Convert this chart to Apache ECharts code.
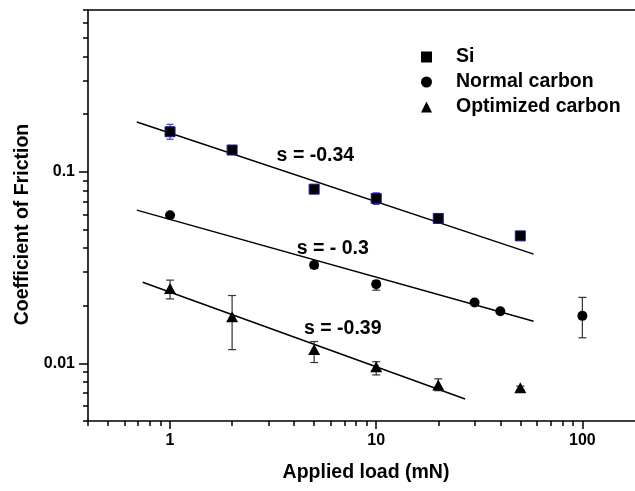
<!DOCTYPE html>
<html><head><meta charset="utf-8">
<script src="https://cdn.jsdelivr.net/npm/echarts@6/dist/echarts.min.js"></script>
<style>html,body{margin:0;padding:0;background:#fff}#c{width:635px;height:491px}</style>
</head><body><div id="c"></div><script>
// ---- data ----
const siLoad = [1, 2, 5, 10, 20, 50];
const siCOF = [0.162, 0.130, 0.0812, 0.0726, 0.0571, 0.0463];
const siLow = [0.148, 0.127, 0.0790, 0.0676, 0.0550, 0.0452];
const siHigh = [0.177, 0.133, 0.0830, 0.0777, 0.0590, 0.0475];

const normalLoad = [1, 5, 10, 30, 40, 100];
const normalCOF = [0.0594, 0.0326, 0.0259, 0.0208, 0.0187, 0.0177];
const normalLow = [0.0578, 0.0313, 0.0241, 0.0203, 0.0183, 0.0136];
const normalHigh = [0.0610, 0.0338, 0.0270, 0.0213, 0.0191, 0.0221];

const optLoad = [1, 2, 5, 10, 20, 50];
const optCOF = [0.0246, 0.0175, 0.0118, 0.0096, 0.0077, 0.00745];
const optLow = [0.0217, 0.0118, 0.0101, 0.0087, 0.0072, 0.0073];
const optHigh = [0.0272, 0.0226, 0.0130, 0.0102, 0.0083, 0.0076];

const siFitX = [0.69, 58], siFitY = [0.182, 0.0372];
const normalFitX = [0.69, 58], normalFitY = [0.0631, 0.0166];
const optFitX = [0.737, 27], optFitY = [0.0265, 0.00651];

const slopeText = ['s = -0.34', 's = - 0.3', 's = -0.39'];
const slopeX = [3.27, 4.09, 4.44];
const slopeY = [0.1222, 0.0395, 0.01523];

const xMinorTicks = [0.4,0.5,0.6,0.7,0.8,0.9,2,3,4,5,6,7,8,9,20,30,40,50,60,70,80,90];
const yMinorTicks = [0.005,0.006,0.007,0.008,0.009,0.02,0.03,0.04,0.05,0.06,0.07,0.08,0.09,0.2,0.3,0.4,0.5,0.6,0.7];

const seriesNames = ['Si', 'Normal carbon', 'Optimized carbon'];
// ---- chart ----
const FONT = '"Liberation Sans", Arial, sans-serif';
const zip2 = (a, b) => a.map((v, i) => [v, b[i]]);
const zip3 = (a, b, c) => a.map((v, i) => [v, b[i], c[i]]);

function errRender(color, cap) {
  return function (params, api) {
    const x = api.value(0);
    const p1 = api.coord([x, api.value(1)]);
    const p2 = api.coord([x, api.value(2)]);
    const st = { stroke: color, lineWidth: 1.2 };
    return { type: 'group', children: [
      { type: 'line', shape: { x1: p1[0], y1: p1[1], x2: p2[0], y2: p2[1] }, style: st },
      { type: 'line', shape: { x1: p1[0] - cap, y1: p1[1], x2: p1[0] + cap, y2: p1[1] }, style: st },
      { type: 'line', shape: { x1: p2[0] - cap, y1: p2[1], x2: p2[0] + cap, y2: p2[1] }, style: st }
    ]};
  };
}

const axisLine = { show: true, lineStyle: { color: '#000', width: 1.6 } };
const tickStyle = { color: '#000', width: 1.5 };
const labelStyle = { color: '#000', fontSize: 16, fontWeight: 'bold', fontFamily: FONT };
const titleStyle = { color: '#000', fontSize: 19.5, fontWeight: 'bold', fontFamily: FONT };

const chart = echarts.init(document.getElementById('c'), null, { renderer: 'canvas' });
chart.setOption({
  animation: false,
  backgroundColor: '#fff',
  grid: { left: 88, top: 10, right: 0, bottom: 70, containLabel: false },
  legend: {
    data: seriesNames.map(n => ({ name: n, itemStyle: { borderWidth: 0, color: '#000' } })),
    orient: 'vertical',
    left: 416, top: 42,
    itemWidth: 11, itemHeight: 11, itemGap: 5,
    textStyle: Object.assign({}, titleStyle, { padding: [0, 0, 0, 19] }),
    selectedMode: false
  },
  xAxis: [
    { type: 'log', logBase: 10, min: 0.4, max: 180, position: 'bottom',
      axisLine: axisLine,
      axisTick: { show: true, inside: false, length: 8, lineStyle: tickStyle },
      axisLabel: Object.assign({ showMinLabel: false, showMaxLabel: false, margin: 12 }, labelStyle),
      splitLine: { show: false }, minorTick: { show: false },
      name: 'Applied load (mN)', nameLocation: 'middle', nameGap: 42,
      nameTextStyle: Object.assign({ padding: [0, 0, 0, 9] }, titleStyle) },
    { type: 'log', logBase: 10, min: 0.4, max: 180, position: 'bottom',
      axisLine: { show: false },
      axisTick: { show: true, inside: false, length: 5, lineStyle: tickStyle, customValues: xMinorTicks },
      axisLabel: { show: false }, splitLine: { show: false } },
    { type: 'log', logBase: 10, min: 0.4, max: 180, position: 'top',
      axisLine: axisLine, axisTick: { show: false }, axisLabel: { show: false }, splitLine: { show: false } }
  ],
  yAxis: [
    { type: 'log', logBase: 10, min: 0.005, max: 0.7, position: 'left',
      axisLine: axisLine,
      axisTick: { show: true, inside: false, length: 9, lineStyle: tickStyle },
      axisLabel: Object.assign({ showMinLabel: false, showMaxLabel: false, margin: 13 }, labelStyle),
      splitLine: { show: false },
      name: 'Coefficient of Friction', nameLocation: 'middle', nameGap: 53,
      nameTextStyle: Object.assign({ padding: [0, 18, 0, 0] }, titleStyle) },
    { type: 'log', logBase: 10, min: 0.005, max: 0.7, position: 'left',
      axisLine: { show: false },
      axisTick: { show: true, inside: false, length: 5, lineStyle: tickStyle, customValues: yMinorTicks },
      axisLabel: { show: false }, splitLine: { show: false } }
  ],
  series: [
    { type: 'line', data: zip2(siFitX, siFitY), symbol: 'none', silent: true, z: 2,
      lineStyle: { color: '#000', width: 1.5 } },
    { type: 'line', data: zip2(normalFitX, normalFitY), symbol: 'none', silent: true, z: 2,
      lineStyle: { color: '#000', width: 1.5 } },
    { type: 'line', data: zip2(optFitX, optFitY), symbol: 'none', silent: true, z: 2,
      lineStyle: { color: '#000', width: 1.5 } },
    { type: 'custom', renderItem: errRender('#3a3aff', 3.5), data: zip3(siLoad, siLow, siHigh),
      encode: { x: 0, y: [1, 2] }, z: 3, silent: true },
    { type: 'custom', renderItem: errRender('#333', 4), data: zip3(normalLoad, normalLow, normalHigh),
      encode: { x: 0, y: [1, 2] }, z: 3, silent: true },
    { type: 'custom', renderItem: errRender('#333', 4), data: zip3(optLoad, optLow, optHigh),
      encode: { x: 0, y: [1, 2] }, z: 3, silent: true },
    { name: seriesNames[0], type: 'scatter', data: zip2(siLoad, siCOF), symbol: 'rect', symbolSize: 10, z: 4,
      itemStyle: { color: '#000', borderColor: '#1a1a90', borderWidth: 1, opacity: 1 } },
    { name: seriesNames[1], type: 'scatter', data: zip2(normalLoad, normalCOF), symbol: 'circle', symbolSize: 10, z: 4,
      itemStyle: { color: '#000', opacity: 1 } },
    { name: seriesNames[2], type: 'scatter', data: zip2(optLoad, optCOF), symbol: 'triangle', symbolSize: [12, 11], z: 4,
      itemStyle: { color: '#000', opacity: 1 } },
    { type: 'scatter', silent: true, z: 5, symbolSize: 1, itemStyle: { color: 'rgba(0,0,0,0)', opacity: 1 },
      data: slopeText.map((t, i) => ({ name: t, value: [slopeX[i], slopeY[i]] })),
      label: Object.assign({ show: true, position: 'right', distance: 0, formatter: '{b}', opacity: 1 }, titleStyle) }
  ]
});
</script></body></html>
